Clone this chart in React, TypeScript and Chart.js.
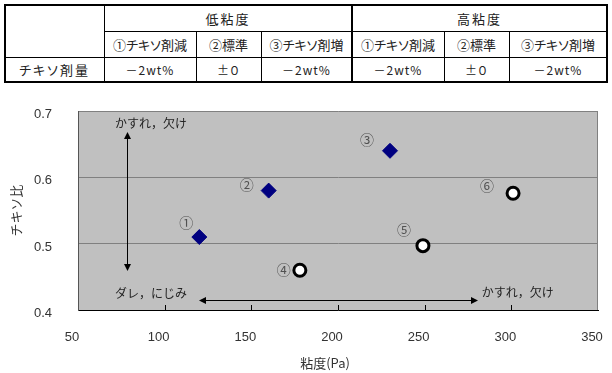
import React, { useEffect, useRef } from "react";
import { Chart, registerables } from "chart.js";

Chart.register(...registerables);

// ---- table data ----
const groupHeaders = ["低粘度", "高粘度"];
const subHeaders = ["①チキソ剤減", "②標準", "③チキソ剤増", "①チキソ剤減", "②標準", "③チキソ剤増"];
const rowLabel = "チキソ剤量";
const amounts = ["－2wt%", "±０", "－2wt%", "－2wt%", "±０", "－2wt%"];

// ---- chart data ----
const lowViscosity = [120, 160, 230];
const lowThixo = [0.51, 0.58, 0.64];
const highViscosity = [178, 249, 301];
const highThixo = [0.46, 0.497, 0.576];
const pointLabels = ["①", "②", "③", "④", "⑤", "⑥"];
const labelOffsets = [[-13, -14], [-22, -6], [-23, -11], [-16, -1], [-19, -16], [-26, -8]];

const xMin = 50, xMax = 350, xStep = 50;
const yMin = 0.4, yMax = 0.7, yStep = 0.1;
const xTitle = "粘度(Pa)";
const yTitle = "チキソ比";

// annotations in data coordinates
const arrows = [
  { x1: 78.3, y1: 0.668, x2: 78.3, y2: 0.459 },
  { x1: 120, y1: 0.415, x2: 281, y2: 0.415 },
];
const notes = [
  { text: "かすれ，欠け", x: 71.3, y: 0.681 },
  { text: "ダレ，にじみ", x: 71.3, y: 0.425 },
  { text: "かすれ，欠け", x: 282.9, y: 0.4267 },
];

const JP = '"Noto Sans CJK JP", "Noto Sans", sans-serif';

// table geometry
const colEdges = [5, 104, 196, 261, 352, 444, 509, 607];
const rowEdges = [5, 31, 57, 82];

function Table() {
  const cells: React.ReactNode[] = [];
  const cell = (key: string, x1: number, x2: number, y1: number, y2: number, text: string, size: number, ls = 0) =>
    cells.push(
      <div key={key} style={{ position: "absolute", left: x1, top: y1, width: x2 - x1, height: y2 - y1, display: "flex", alignItems: "center", justifyContent: "center", fontFamily: JP, fontSize: size, color: "#222", letterSpacing: ls, whiteSpace: "nowrap", fontFeatureSettings: '"palt"' }}>{text}</div>
    );
  cell("g0", colEdges[1], colEdges[4], rowEdges[0], rowEdges[1], groupHeaders[0], 13, 2);
  cell("g1", colEdges[4], colEdges[7], rowEdges[0], rowEdges[1], groupHeaders[1], 13, 2);
  subHeaders.forEach((s, i) => cell("s" + i, colEdges[i + 1], colEdges[i + 2], rowEdges[1], rowEdges[2], s, 13));
  cell("rl", colEdges[0], colEdges[1], rowEdges[2], rowEdges[3], rowLabel, 13, 2);
  amounts.forEach((s, i) => cell("a" + i, colEdges[i + 1], colEdges[i + 2], rowEdges[2], rowEdges[3], s, 12, 1));

  const lines: React.ReactNode[] = [];
  const vline = (k: string, x: number, y1: number, y2: number, w = 1) =>
    lines.push(<div key={k} style={{ position: "absolute", left: x - w / 2, top: y1, width: w, height: y2 - y1, background: "#000" }} />);
  const hline = (k: string, y: number, x1: number, x2: number, w = 1) =>
    lines.push(<div key={k} style={{ position: "absolute", left: x1, top: y - w / 2, width: x2 - x1, height: w, background: "#000" }} />);
  vline("v1", colEdges[1], rowEdges[0], rowEdges[3]);
  vline("v4", colEdges[4], rowEdges[0], rowEdges[3], 2);
  [2, 3, 5, 6].forEach((i) => vline("v" + i, colEdges[i], rowEdges[1], rowEdges[3]));
  hline("h1", rowEdges[1], colEdges[1], colEdges[7]);
  hline("h2", rowEdges[2], colEdges[0], colEdges[7]);

  return (
    <div style={{ position: "fixed", left: 0, top: 0, width: 612, height: 90 }}>
      <div style={{ position: "absolute", left: colEdges[0] - 1, top: rowEdges[0] - 1, width: colEdges[7] - colEdges[0] + 2, height: rowEdges[3] - rowEdges[0] + 2, border: "2px solid #000", boxSizing: "border-box", background: "#fff" }} />
      {lines}
      {cells}
    </div>
  );
}

export default function App() {
  const ref = useRef<HTMLCanvasElement>(null);
  useEffect(() => {
    const canvas = ref.current!;
    const plotDecor = {
      id: "plotDecor",
      beforeDraw(chart: any) {
        const { ctx, chartArea: a } = chart;
        ctx.save();
        ctx.fillStyle = "#fff";
        ctx.fillRect(0, 0, chart.width, chart.height);
        ctx.fillStyle = "#c0c0c0";
        ctx.fillRect(a.left, a.top, a.right - a.left, a.bottom - a.top);
        ctx.restore();
      },
      beforeDatasetsDraw(chart: any) {
        const { ctx, chartArea: a, scales } = chart;
        ctx.save();
        ctx.strokeStyle = "#808080";
        ctx.lineWidth = 1;
        ctx.beginPath();
        ctx.moveTo(Math.round(a.right) - 0.5, a.top);
        ctx.lineTo(Math.round(a.right) - 0.5, a.bottom);
        ctx.stroke();
        // inward tick marks on x axis
        ctx.strokeStyle = "#000";
        ctx.beginPath();
        for (let v = xMin + xStep; v < xMax; v += xStep) {
          const px = Math.round(scales.x.getPixelForValue(v)) + 0.5;
          ctx.moveTo(px, a.bottom);
          ctx.lineTo(px, a.bottom - 5);
        }
        ctx.stroke();
        ctx.restore();
      },
      afterDatasetsDraw(chart: any) {
        const { ctx, scales, chartArea: a } = chart;
        const sx = scales.x, sy = scales.y;
        ctx.save();
        // point labels
        ctx.font = `14px ${JP}`;
        ctx.fillStyle = "#505050";
        ctx.textAlign = "center";
        ctx.textBaseline = "middle";
        const allX = [...lowViscosity, ...highViscosity];
        const allY = [...lowThixo, ...highThixo];
        pointLabels.forEach((t, i) => {
          const px = sx.getPixelForValue(allX[i]) + labelOffsets[i][0];
          const py = sy.getPixelForValue(allY[i]) + labelOffsets[i][1];
          ctx.fillText(t, px, py);
        });
        // arrows
        ctx.strokeStyle = "#000";
        ctx.fillStyle = "#000";
        ctx.lineWidth = 1;
        arrows.forEach((ar) => {
          const x1 = sx.getPixelForValue(ar.x1), y1 = sy.getPixelForValue(ar.y1);
          const x2 = sx.getPixelForValue(ar.x2), y2 = sy.getPixelForValue(ar.y2);
          const ang = Math.atan2(y2 - y1, x2 - x1);
          const hl = 7, hw = 3.5;
          const head = (x: number, y: number, a2: number) => {
            ctx.beginPath();
            ctx.moveTo(x, y);
            ctx.lineTo(x - hl * Math.cos(a2) + hw * Math.sin(a2), y - hl * Math.sin(a2) - hw * Math.cos(a2));
            ctx.lineTo(x - hl * Math.cos(a2) - hw * Math.sin(a2), y - hl * Math.sin(a2) + hw * Math.cos(a2));
            ctx.closePath();
            ctx.fill();
          };
          const cx1 = Math.round(x1) + (x1 === x2 ? 0.5 : 0), cy1 = Math.round(y1) + (y1 === y2 ? 0.5 : 0);
          const cx2 = Math.round(x2) + (x1 === x2 ? 0.5 : 0), cy2 = Math.round(y2) + (y1 === y2 ? 0.5 : 0);
          ctx.beginPath();
          ctx.moveTo(cx1 + 4 * Math.cos(ang), cy1 + 4 * Math.sin(ang));
          ctx.lineTo(cx2 - 4 * Math.cos(ang), cy2 - 4 * Math.sin(ang));
          ctx.stroke();
          head(cx2, cy2, ang);
          head(cx1, cy1, ang + Math.PI);
        });
        // notes
        ctx.font = `12px ${JP}`;
        ctx.fillStyle = "#222";
        ctx.textAlign = "left";
        ctx.textBaseline = "middle";
        notes.forEach((n) => ctx.fillText(n.text, sx.getPixelForValue(n.x), sy.getPixelForValue(n.y)));
        // x axis title
        ctx.font = `13px ${JP}`;
        ctx.fillStyle = "#333";
        ctx.textAlign = "center";
        ctx.fillText(xTitle, (a.left + a.right) / 2 - 13, 363);
        ctx.restore();
      },
    };

    const chart = new Chart(canvas, {
      type: "scatter",
      data: {
        datasets: [
          {
            label: "低粘度",
            data: lowViscosity.map((x, i) => ({ x, y: lowThixo[i] })),
            pointStyle: "rectRot",
            pointRadius: 7.5,
            backgroundColor: "#000080",
            borderColor: "#000080",
            borderWidth: 1,
          },
          {
            label: "高粘度",
            data: highViscosity.map((x, i) => ({ x, y: highThixo[i] })),
            pointStyle: "circle",
            pointRadius: 6,
            backgroundColor: "#ffffff",
            borderColor: "#000000",
            borderWidth: 3,
          },
        ],
      },
      options: {
        responsive: false,
        animation: false,
        layout: { padding: { left: 0, right: 14, top: 111, bottom: 0 } },
        plugins: { legend: { display: false }, tooltip: { enabled: false }, title: { display: false } },
        scales: {
          x: {
            type: "linear",
            min: xMin,
            max: xMax,
            afterFit: (s: any) => { s.height = 63; s.paddingLeft = 0; s.paddingRight = 0; },
            grid: { display: false, drawTicks: false },
            border: { display: true, color: "#000", width: 1 },
            ticks: {
              stepSize: xStep,
              padding: 20,
              labelOffset: -6,
              color: "#333",
              font: { family: '"Liberation Sans", Arial, sans-serif', size: 13 },
              maxRotation: 0,
            },
          },
          y: {
            type: "linear",
            min: yMin,
            max: yMax,
            afterFit: (s: any) => { s.width = 78; s.paddingTop = 0; s.paddingBottom = 0; },
            grid: { color: "#808080", lineWidth: 1, drawTicks: false },
            border: { display: true, color: "#555", width: 1 },
            ticks: {
              stepSize: yStep,
              padding: 26,
              labelOffset: 3.5,
              color: "#333",
              font: { family: '"Liberation Sans", Arial, sans-serif', size: 13 },
              callback: (v: any) => Number(v).toFixed(1),
            },
            title: {
              display: true,
              text: yTitle,
              color: "#333",
              font: { family: JP, size: 13 },
              padding: { top: 8, bottom: 0 },
            },
          },
        },
      },
      plugins: [plotDecor],
    });
    return () => chart.destroy();
  }, []);

  return (
    <div>
      <canvas ref={ref} width={612} height={373} style={{ position: "fixed", left: 0, top: 0, width: 612, height: 373 }} />
      <Table />
    </div>
  );
}
